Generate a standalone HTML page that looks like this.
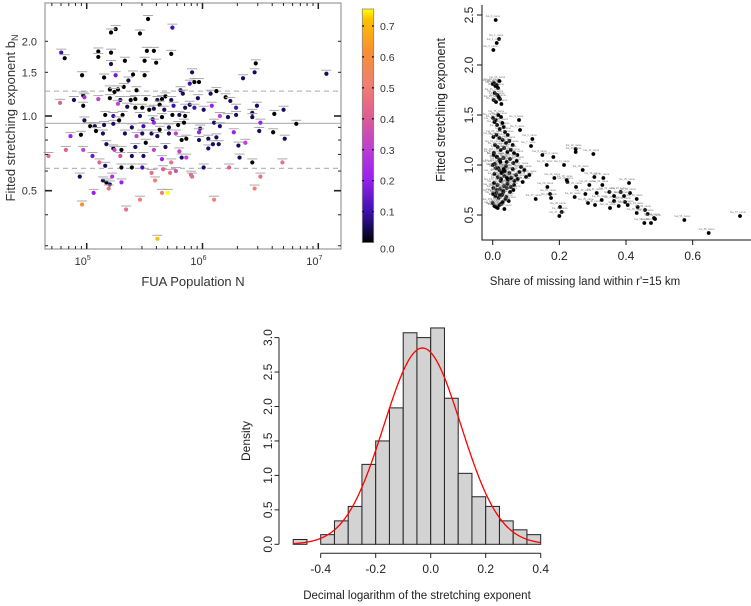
<!DOCTYPE html>
<html><head><meta charset="utf-8"><style>
html,body{margin:0;padding:0;background:#fff}
svg{display:block;font-family:"Liberation Sans",sans-serif}
</style></head><body>
<svg id="fig" width="751" height="606" viewBox="0 0 751 606" xmlns="http://www.w3.org/2000/svg">
<defs>
<linearGradient id="cbg" x1="0" y1="1" x2="0" y2="0">
<stop offset="0" stop-color="#000000"/><stop offset="0.068" stop-color="#1a0a60"/><stop offset="0.136" stop-color="#4010b0"/><stop offset="0.273" stop-color="#9a20f0"/><stop offset="0.41" stop-color="#c040d0"/><stop offset="0.546" stop-color="#e0608f"/><stop offset="0.682" stop-color="#f08070"/><stop offset="0.82" stop-color="#f89030"/><stop offset="0.955" stop-color="#ffc000"/><stop offset="1" stop-color="#ffff00"/>
</linearGradient>
</defs>
<g id="tl"></g>
<g id="tr"></g>
<g id="hist"></g>
</svg>
<script>
// ---------- Panel A data ----------
const tlLogN=[5.53,5.74,5.25,5.21,5.46,4.78,4.81,5.10,5.10,5.21,5.52,5.58,5.73,5.33,5.50,5.60,5.21,6.46,4.96,5.15,5.25,5.40,5.50,5.36,5.91,6.35,6.45,7.07,5.89,5.93,5.97,5.32,5.27,5.20,5.24,5.43,4.97,4.98,4.89,4.77,5.10,5.20,5.29,5.38,5.42,5.51,5.61,5.65,5.68,5.73,5.81,5.83,5.96,6.07,6.12,6.20,6.24,6.29,4.97,5.27,5.35,5.42,5.48,5.54,5.58,5.63,5.67,5.75,5.85,5.89,5.93,6.01,6.08,6.43,6.47,6.62,6.70,5.16,5.23,5.31,5.46,5.57,5.65,5.74,5.80,5.85,6.15,6.22,6.29,6.43,4.98,5.03,5.07,5.15,5.23,5.28,5.39,5.49,5.58,5.63,5.71,5.79,5.84,5.98,6.10,6.15,6.50,6.49,6.61,6.81,4.86,4.95,5.08,5.14,5.33,5.43,5.48,5.51,5.56,5.61,5.71,5.77,5.82,5.86,5.97,5.97,6.05,6.12,6.27,6.31,6.37,6.71,5.17,5.23,5.30,5.24,5.42,5.58,5.68,5.80,6.05,6.09,6.14,4.82,4.67,4.97,5.05,5.29,5.39,5.49,5.65,5.82,5.86,6.32,6.43,5.11,5.16,5.30,5.39,5.48,5.73,6.01,6.23,6.69,4.94,5.14,5.17,5.22,5.30,5.20,5.19,5.56,5.66,5.72,5.77,5.90,5.91,6.50,5.59,5.06,5.65,5.70,6.45,4.96,5.46,6.10,5.34,5.61];
const tlB=[2.46,2.27,2.24,2.17,2.15,1.80,1.71,1.82,1.73,1.80,1.83,1.83,1.78,1.67,1.67,1.64,1.62,1.63,1.46,1.43,1.46,1.47,1.46,1.39,1.50,1.42,1.50,1.48,1.35,1.37,1.37,1.31,1.28,1.28,1.25,1.27,1.21,1.19,1.16,1.13,1.17,1.18,1.16,1.16,1.17,1.17,1.16,1.17,1.20,1.16,1.27,1.23,1.18,1.23,1.26,1.19,1.15,1.08,1.10,1.12,1.09,1.08,1.08,1.06,1.07,1.11,1.06,1.10,1.08,1.11,1.08,1.06,1.10,1.03,1.10,1.02,1.06,1.01,1.00,1.01,1.00,0.97,0.99,1.01,1.01,1.00,1.00,0.99,1.01,0.99,0.96,0.91,0.91,0.92,0.93,0.96,0.90,0.91,0.94,0.88,0.90,0.92,0.94,0.89,0.94,0.91,0.94,0.87,0.86,0.93,0.83,0.84,0.87,0.85,0.85,0.83,0.85,0.78,0.85,0.83,0.85,0.85,0.80,0.81,0.86,0.80,0.81,0.82,0.86,0.76,0.78,0.81,0.77,0.74,0.73,0.73,0.75,0.73,0.75,0.72,0.74,0.77,0.77,0.73,0.69,0.73,0.69,0.69,0.69,0.69,0.67,0.68,0.68,0.68,0.65,0.65,0.63,0.62,0.62,0.62,0.65,0.62,0.62,0.65,0.57,0.55,0.54,0.57,0.54,0.53,0.51,0.59,0.61,0.59,0.60,0.58,0.57,0.57,0.55,0.49,0.49,0.49,0.51,0.44,0.46,0.46,0.42,0.32];
const tlC=[0,0.1,0,0,0,0.1,0,0,0,0,0,0,0,0,0,0,0.05,0,0,0,0.15,0,0,0.05,0.05,0.05,0.05,0.05,0.1,0,0,0,0,0,0,0,0,0.25,0.05,0.4,0.3,0,0.05,0,0,0,0.05,0,0,0.05,0.05,0.05,0.05,0.05,0,0,0.05,0.1,0,0.3,0.05,0,0,0,0.05,0,0.05,0.1,0.05,0.05,0.1,0.05,0.2,0.05,0.05,0,0.05,0,0.1,0,0.05,0.05,0,0,0.05,0,0.3,0.05,0.05,0.05,0.05,0,0.05,0.05,0.05,0,0.05,0.1,0.2,0,0.05,0,0,0.05,0.05,0.05,0.2,0.05,0,0,0.2,0,0,0.05,0.05,0.3,0.05,0,0.05,0.05,0.05,0.3,0,0,0.2,0.05,0.05,0.05,0.2,0.05,0.3,0.05,0.05,0,0,0.3,0.05,0.3,0.05,0.3,0.05,0.05,0.05,0.4,0.45,0.3,0.15,0.35,0.05,0.05,0.2,0.05,0.3,0.05,0,0.4,0.05,0,0,0.1,0.45,0.05,0.4,0.45,0.05,0.05,0,0.25,0.2,0.05,0.45,0.45,0.4,0.45,0.35,0.4,0.45,0.45,0.5,0.2,0.5,0.75,0.5,0.6,0.5,0.5,0.45,0.7];
const tlXTicks=[5,6,7];
const tlYTicks=[0.5,1.0,1.5,2.0];
const tlYTickLabels=["0.5","1.0","1.5","2.0"];
const tlRefLines=[1.26,0.934,0.615];
const cbTicks=[0,0.1,0.2,0.3,0.4,0.5,0.6,0.7];

// ---------- Panel B data ----------
const trX=[0.009,0.019,0.012,0.002,0.079,0.082,0.119,0.115,0.149,0.182,0.162,0.214,0.249,0.249,0.302,0.27,0.305,0.332,0.222,0.185,0.164,0.224,0.25,0.29,0.329,0.409,0.172,0.129,0.175,0.246,0.278,0.312,0.35,0.384,0.412,0.286,0.327,0.364,0.397,0.432,0.307,0.352,0.378,0.405,0.435,0.202,0.207,0.2,0.432,0.457,0.465,0.484,0.475,0.487,0.455,0.575,0.648,0.742,0.394,0.364,
0.0,0.004,0.008,0.012,0.016,0.02,0.006,0.014,0.022,0.003,0.01,0.018,0.026,0.001,0.009,0.017,0.025,0.033,0.005,0.013,0.021,0.029,0.037,0.045,0.002,0.011,0.02,0.03,0.04,0.05,0.06,0.007,0.015,0.024,0.034,0.044,0.054,0.064,0.074,0.003,0.012,0.022,0.032,0.042,0.052,0.062,0.072,0.085,0.095,0.0,0.01,0.02,0.03,0.04,0.05,0.06,0.07,0.08,0.1,0.11,0.005,0.015,0.025,0.035,0.045,0.055,0.065,0.075,0.09,0.004,0.014,0.024,0.034,0.044,0.054,0.064,0.002,0.012,0.022,0.032,0.042,0.052,0.062,0.001,0.011,0.021,0.031,0.041,0.008,0.018,0.028,0.038,0.048,0.0,0.02,0.01,0.03,0.005,0.025,0.015,0.035,0.02,0.006,0.016,0.026,0.036,0.003,0.013,0.023,0.033,0.043];
const trY=[2.45,2.26,2.22,2.15,1.45,1.35,1.26,1.19,1.10,1.08,1.00,1.00,1.16,1.13,1.11,0.95,0.88,0.87,0.85,0.87,0.78,0.83,0.78,0.80,0.80,0.82,0.71,0.66,0.67,0.68,0.71,0.72,0.73,0.73,0.72,0.62,0.65,0.64,0.63,0.66,0.60,0.57,0.59,0.60,0.58,0.58,0.53,0.49,0.52,0.55,0.51,0.47,0.42,0.46,0.42,0.45,0.32,0.49,0.69,0.69,
1.81,1.82,1.79,1.80,1.77,1.84,1.72,1.70,1.66,1.65,1.63,1.68,1.61,1.47,1.45,1.50,1.48,1.38,1.43,1.40,1.36,1.42,1.33,1.30,1.28,1.30,1.27,1.25,1.22,1.24,1.20,1.20,1.18,1.15,1.17,1.13,1.15,1.12,1.10,1.10,1.08,1.05,1.07,1.03,1.06,1.02,1.04,0.98,0.95,1.00,0.97,0.95,0.93,0.99,0.92,0.96,0.90,0.93,0.88,0.90,0.91,0.88,0.86,0.89,0.85,0.87,0.84,0.86,0.83,0.82,0.80,0.84,0.79,0.81,0.78,0.80,0.77,0.75,0.76,0.74,0.77,0.73,0.75,0.71,0.72,0.70,0.73,0.68,0.69,0.67,0.70,0.66,0.64,0.62,0.60,0.58,0.63,0.59,0.61,0.57,0.56,1.05,1.01,0.97,0.92,0.94,1.12,1.08,1.03,0.96,0.87];
const trXTicks=[0,0.2,0.4,0.6];
const trXTickLabels=["0.0","0.2","0.4","0.6"];
const trYTicks=[0.5,1.0,1.5,2.0,2.5];
const trYTickLabels=["0.5","1.0","1.5","2.0","2.5"];

// ---------- Panel C data ----------
const histBreaks=[-0.5,-0.45,-0.4,-0.35,-0.3,-0.25,-0.2,-0.15,-0.1,-0.05,0,0.05,0.1,0.15,0.2,0.25,0.3,0.35,0.4];
const histDensity=[0.07,0,0.14,0.34,0.55,1.16,1.5,1.98,3.07,3.0,3.14,2.12,1.03,0.69,0.55,0.34,0.21,0.14];
const fitMean=-0.03;
const fitSd=0.14;
const histXTicks=[-0.4,-0.2,0,0.2,0.4];
const histXTickLabels=["-0.4","-0.2","0.0","0.2","0.4"];
const histYTicks=[0,0.5,1,1.5,2,2.5,3];
const histYTickLabels=["0.0","0.5","1.0","1.5","2.0","2.5","3.0"];

const NS="http://www.w3.org/2000/svg";
function mk(parent,tag,attrs,text){const e=document.createElementNS(NS,tag);for(const k in attrs)e.setAttribute(k,attrs[k]);if(text!==undefined)e.textContent=text;parent.appendChild(e);return e;}

const cmapStops=[[0,[0,0,0]],[0.05,[26,10,96]],[0.1,[64,16,176]],[0.2,[154,32,240]],[0.3,[192,64,208]],[0.4,[224,96,143]],[0.5,[240,128,112]],[0.6,[248,144,48]],[0.7,[255,192,0]],[0.733,[255,255,0]]];
function cmap(c){const t=Math.max(0,Math.min(0.733,c));for(let i=1;i<cmapStops.length;i++){if(t<=cmapStops[i][0]){const a=cmapStops[i-1],b=cmapStops[i];const f=(t-a[0])/(b[0]-a[0]);const r=a[1].map((v,j)=>Math.round(v+(b[1][j]-v)*f));return `rgb(${r[0]},${r[1]},${r[2]})`;}}return "#ff0";}

// ===== Panel A =====
(function(){
const g=document.getElementById('tl');
const xL=v=>86.7+(v-5)*115.8;
const yL=b=>116-Math.log2(b)*74.7;
const L=45,R=341,T=3,B=249;
for(const r of tlRefLines){
  const ln=mk(g,'line',{x1:L,x2:R,y1:yL(r),y2:yL(r),stroke:'#b8b8b8','stroke-width':1.2,'stroke-dasharray':r===0.934?'':'5,4'});
  
  
}
for(let i=0;i<tlLogN.length;i++){
  const x=xL(tlLogN[i]),y=yL(tlB[i]);
  const eb=mk(g,'line',{x1:x-5,x2:x+5,y1:y-3.5,y2:y-3.5,stroke:'#aaa','stroke-width':1});
  
  
  const c=mk(g,'circle',{cx:x,cy:y,r:2.1,fill:cmap(tlC[i])});
  
  
}
const box=mk(g,'rect',{x:L,y:T,width:R-L,height:B-T,fill:'none',stroke:'#999','stroke-width':1.2});


for(const d of [4,5,6,7]){for(let m=1;m<10;m++){const v=d+Math.log10(m);const x=xL(v);if(x<L||x>R)continue;const len=m===1?6:3;
  mk(g,'line',{x1:x,x2:x,y1:B,y2:B-len,stroke:'#222','stroke-width':m===1?1.5:1});
  mk(g,'line',{x1:x,x2:x,y1:T,y2:T+len,stroke:'#222','stroke-width':m===1?1.5:1});}}
for(const t of tlXTicks){const tx=mk(g,'text',{x:xL(t)-4,y:265,'font-size':11,'text-anchor':'middle',fill:'#333'});tx.textContent='10';mk(tx,'tspan',{dy:-5,'font-size':7},String(t));
  
  }
for(const v of [0.3,0.4,0.5,0.6,0.7,0.8,0.9,1.0,1.5,2.0]){const y=yL(v);const maj=(v===0.5||v===1.0);const len=maj?7:3;
  mk(g,'line',{x1:L,x2:L+len,y1:y,y2:y,stroke:'#222','stroke-width':maj?1.6:1});
  mk(g,'line',{x1:R,x2:R-len,y1:y,y2:y,stroke:'#222','stroke-width':maj?1.6:1});}
tlYTicks.forEach((v,i)=>{const t=mk(g,'text',{x:37,y:yL(v)+4,'font-size':11,'text-anchor':'end',fill:'#333'},tlYTickLabels[i]);
  
  });
const xt=mk(g,'text',{x:193,y:286,'font-size':13,'text-anchor':'middle',fill:'#333'},'FUA Population N');


const yt=mk(g,'text',{x:0,y:0,'font-size':13,'text-anchor':'middle',fill:'#333',transform:'translate(15,118) rotate(-90)'},'Fitted stretching exponent b');
mk(yt,'tspan',{'font-size':9,dy:3},'N');


const cbT=9,cbB=242.6;const cbY=v=>242.6-v*309.5;
const cb=mk(g,'rect',{x:362.3,y:cbT,width:11.4,height:cbB-cbT,fill:'url(#cbg)',stroke:'#888','stroke-width':0.8});


for(const v of cbTicks){const y=cbY(v);
  if(v>0){mk(g,'line',{x1:362.3,x2:364,y1:y,y2:y,stroke:'#000','stroke-width':1.3});mk(g,'line',{x1:372,x2:373.7,y1:y,y2:y,stroke:'#000','stroke-width':1.3});}
  const t=mk(g,'text',{x:380,y:(v===0?y+6:y)+4,'font-size':10.5,fill:'#333'},v.toFixed(1));
  
  }
})();

// ===== Panel B =====
(function(){
const g=document.getElementById('tr');
const xR=v=>492.7+v*333.3;
const yR=v=>215-(v-0.5)*100;
for(let i=0;i<trX.length;i++){
  const x=xR(trX[i]),y=yR(trY[i]);
  const lb=mk(g,'text',{x:x-10,y:y-3,'font-size':2.6,fill:'#777'},'fua_'+i+'_name');
  
  
  const c=mk(g,'circle',{cx:x,cy:y,r:1.9,fill:'#000'});
  
  
}
const ax=mk(g,'path',{d:'M482,5 L482,240 L751,240',fill:'none',stroke:'#111','stroke-width':1});


trXTicks.forEach((v,i)=>{const x=xR(v);mk(g,'line',{x1:x,x2:x,y1:240,y2:245,stroke:'#111'});
  const t=mk(g,'text',{x:x,y:260,'font-size':12,'text-anchor':'middle',fill:'#222'},trXTickLabels[i]);
  
  });
trYTicks.forEach((v,i)=>{const y=yR(v);mk(g,'line',{x1:482,x2:477,y1:y,y2:y,stroke:'#111'});
  const t=mk(g,'text',{x:0,y:0,'font-size':12,'text-anchor':'middle',fill:'#222',transform:`translate(473,${y}) rotate(-90)`},trYTickLabels[i]);
  
  });
const xt=mk(g,'text',{x:585,y:285,'font-size':11.5,'text-anchor':'middle',fill:'#222'},"Share of missing land within r'=15 km");


const yt=mk(g,'text',{x:0,y:0,'font-size':12.5,'text-anchor':'middle',fill:'#222',transform:'translate(445,110) rotate(-90)'},'Fitted stretching exponent');


})();

// ===== Panel C =====
(function(){
const g=document.getElementById('hist');
const xH=v=>540.7+(v-0.4)*275;
const yH=v=>544.3-v*68.9;
for(let i=0;i<histDensity.length;i++){
  const x0=xH(histBreaks[i]),x1=xH(histBreaks[i+1]),y=yH(histDensity[i]);
  const r=mk(g,'rect',{x:x0,y:y,width:x1-x0,height:yH(0)-y,fill:'#d3d3d3',stroke:'#222','stroke-width':1});
  
  
}
let d='';for(let k=0;k<=180;k++){const v=-0.5+0.9*k/180;const p=Math.exp(-0.5*Math.pow((v-fitMean)/fitSd,2))/(fitSd*Math.sqrt(2*Math.PI));d+=(k?'L':'M')+xH(v).toFixed(2)+','+yH(p).toFixed(2);}
const cv=mk(g,'path',{d:d,fill:'none',stroke:'#ff0000','stroke-width':1.3});


mk(g,'line',{x1:xH(-0.4),x2:xH(0.4),y1:553.3,y2:553.3,stroke:'#222'});
histXTicks.forEach((v,i)=>{const x=xH(v);mk(g,'line',{x1:x,x2:x,y1:553.3,y2:558,stroke:'#222'});
  const t=mk(g,'text',{x:x,y:573,'font-size':12,'text-anchor':'middle',fill:'#222'},histXTickLabels[i]);
  
  });
mk(g,'line',{x1:279,x2:279,y1:yH(0),y2:yH(3),stroke:'#222'});
histYTicks.forEach((v,i)=>{const y=yH(v);mk(g,'line',{x1:279,x2:274.5,y1:y,y2:y,stroke:'#222'});
  const t=mk(g,'text',{x:0,y:0,'font-size':12,'text-anchor':'middle',fill:'#222',transform:`translate(272,${y}) rotate(-90)`},histYTickLabels[i]);
  
  });
const xt=mk(g,'text',{x:417,y:599,'font-size':11.5,'text-anchor':'middle',fill:'#222'},'Decimal logarithm of the stretching exponent');


const yt=mk(g,'text',{x:0,y:0,'font-size':12,'text-anchor':'middle',fill:'#222',transform:'translate(250,441) rotate(-90)'},'Density');


})();
</script>
</body></html>
